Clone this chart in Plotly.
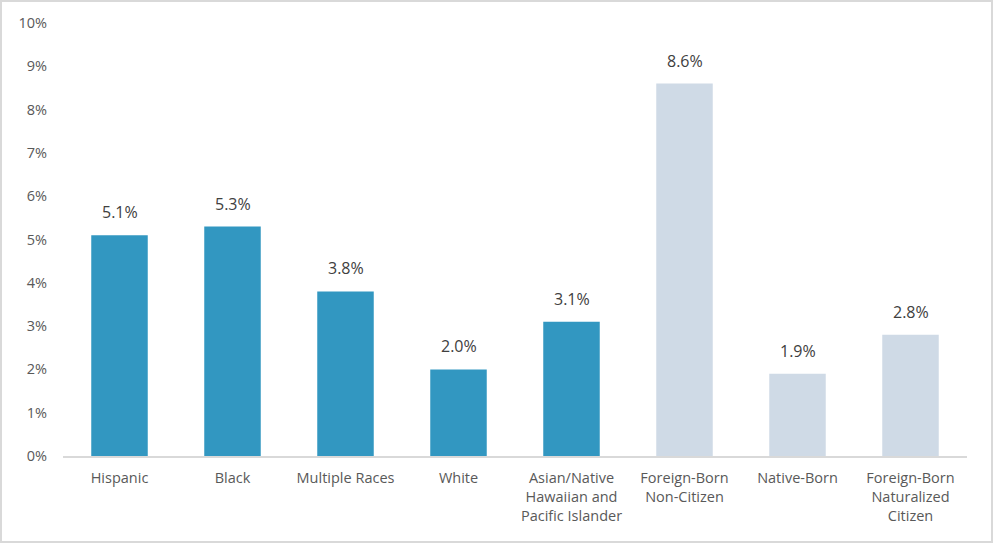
import plotly.graph_objects as go

# unemployment-style rates by group
categories = [
    "Hispanic",
    "Black",
    "Multiple Races",
    "White",
    "Asian/Native<br>Hawaiian and<br>Pacific Islander",
    "Foreign-Born<br>Non-Citizen",
    "Native-Born",
    "Foreign-Born<br>Naturalized<br>Citizen",
]
values = [5.1, 5.3, 3.8, 2.0, 3.1, 8.6, 1.9, 2.8]
groups = ["race"] * 5 + ["nativity"] * 3

tick_vals = list(range(0, 11))
tick_text = [f"{v}%" for v in tick_vals]

colour = {"race": "#3297C1", "nativity": "#CFDAE6"}
font = "Open Sans, Noto Sans, sans-serif"
grey = "#595959"

fig = go.Figure()
fig.add_trace(go.Bar(
    x=categories,
    y=values,
    marker=dict(color=[colour[g] for g in groups], line=dict(width=0)),
    width=0.5,
    hoverinfo="skip",
))

# value labels sit a little higher than plotly's own "outside" text
for cat, v in zip(categories, values):
    fig.add_annotation(x=cat, y=v, text=f"{v:.1f}%", showarrow=False,
                       yanchor="bottom", yshift=10,
                       font=dict(family=font, size=16, color="#404040"))

fig.update_layout(
    width=993,
    height=543,
    margin=dict(l=63, r=26, t=23, b=87),
    paper_bgcolor="white",
    plot_bgcolor="white",
    showlegend=False,
    font=dict(family=font, size=14, color=grey),
)
fig.update_xaxes(
    showline=True, linecolor="#D9D9D9", linewidth=1.5,
    showgrid=False, ticks="", ticklabelstandoff=8,
    tickfont=dict(size=14.5, color=grey),
)
fig.update_yaxes(
    range=[0, 10], tickvals=tick_vals, ticktext=tick_text,
    showgrid=False, zeroline=False, showline=False, ticks="",
    ticklabelstandoff=15, tickfont=dict(size=14.5, color=grey),
)
# thin frame round the whole chart
fig.add_shape(type="rect", xref="paper", yref="paper",
              x0=-62 / 904, x1=1 + 25 / 904, y0=-86 / 433, y1=1 + 22 / 433,
              line=dict(color="#D9D9D9", width=2))

fig.write_html("out.html", config={"displayModeBar": False},
               post_script="document.body.style.margin='0';")
